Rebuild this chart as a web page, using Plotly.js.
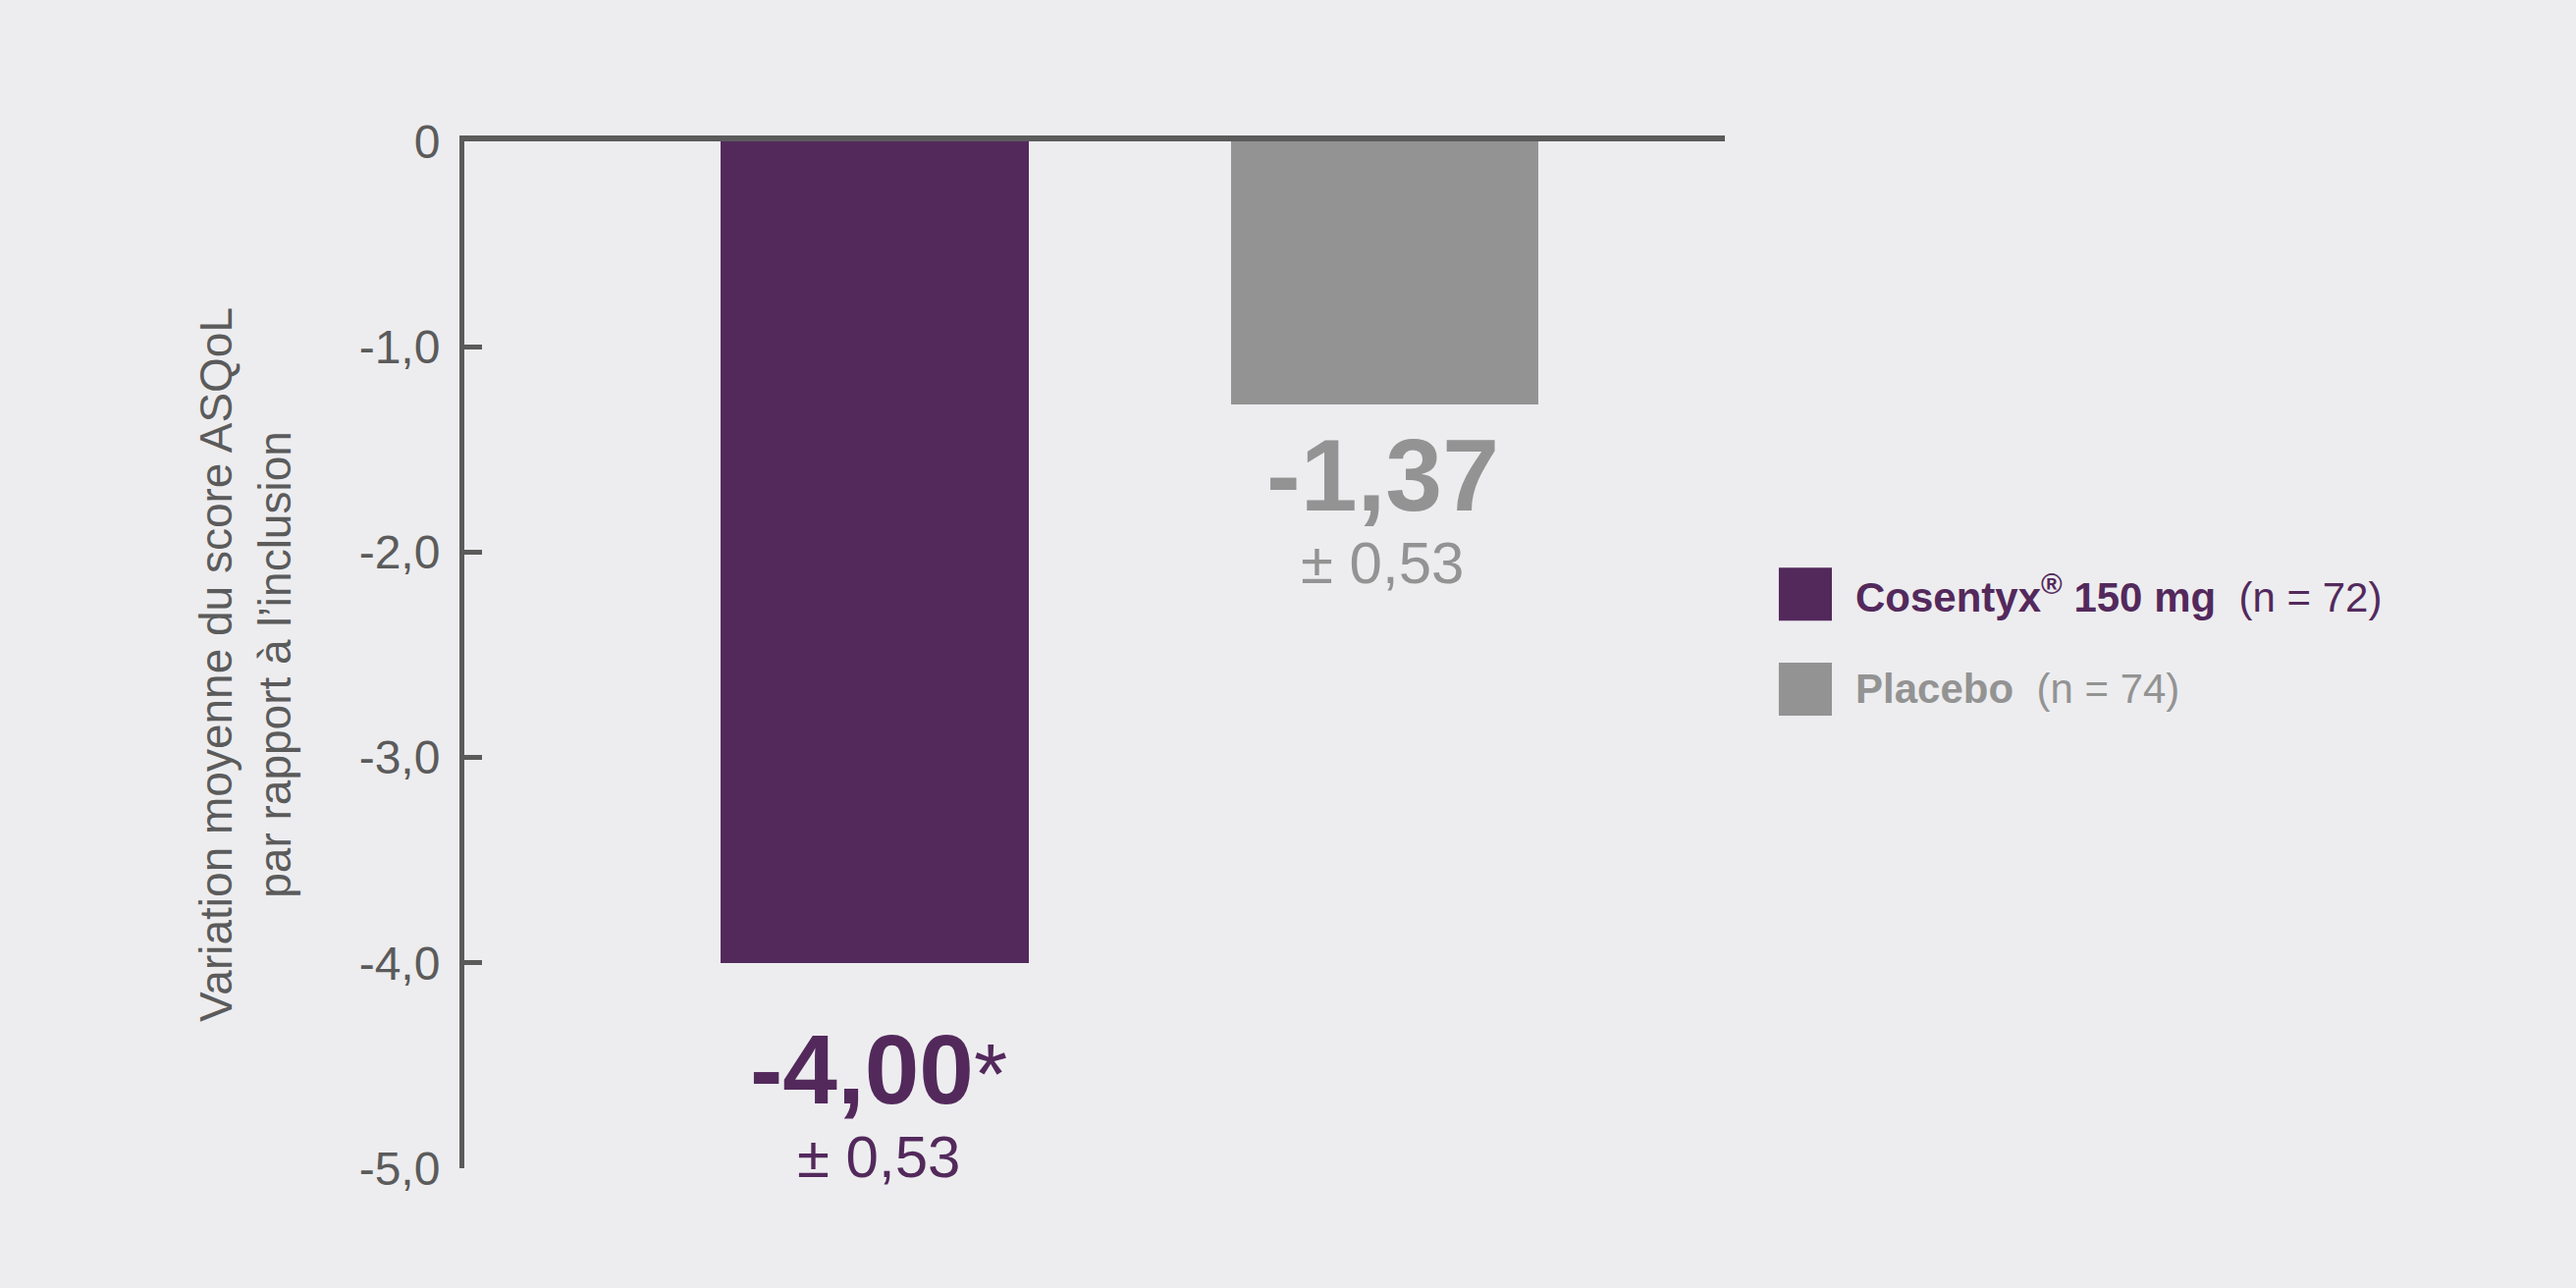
<!DOCTYPE html>
<html>
<head>
<meta charset="utf-8">
<script src="https://cdn.plot.ly/plotly-3.0.1.min.js"></script>
<style>
  html, body { margin: 0; padding: 0; background: #EDEDEF; }
  #chart { width: 2624px; height: 1312px; }
</style>
</head>
<body>
<div id="chart"></div>
<script>
// ---- Data ----
const categories = ["Cosentyx® 150 mg", "Placebo"];
const barValues = [-4.00, -1.28];          // bar ends as drawn
const valueLabels = ["-4,00", "-1,37"];
const significance = ["*", ""];
const semLabels = ["± 0,53", "± 0,53"];
const nLabels = ["(n = 72)", "(n = 74)"];
const legendNames = ["Cosentyx<sup>®</sup> 150 mg", "Placebo"];
const tickVals = [0, -1, -2, -3, -4, -5];
const tickText = ["0", "-1,0", "-2,0", "-3,0", "-4,0", "-5,0"];
const yTitle = "Variation moyenne du score ASQoL<br>par rapport à l’inclusion";

// ---- Style ----
const purple = "#53295C";
const grey = "#939393";
const axisCol = "#5B5B5B";
const bg = "#EDEDEF";
const colors = [purple, grey];
const fam = "Liberation Sans, Arial, sans-serif";

const trace = {
  type: "bar",
  x: categories,
  y: barValues,
  width: 0.603,
  marker: { color: colors, line: { width: 0 } },
  hoverinfo: "skip",
  showlegend: false
};

const annotations = [];
const valueSizes = [100, 104];
const valueShift = [-108, -72];
const semShift = [-198, -162];
const valueXShift = [4, -2];
categories.forEach((c, i) => {
  const sig = significance[i]
    ? "<span style='font-weight:normal;font-size:88px'>" + significance[i] + "</span>" : "";
  annotations.push({
    x: c, y: barValues[i], xref: "x", yref: "y",
    text: "<b>" + valueLabels[i] + "</b>" + sig,
    showarrow: false, xanchor: "center", yanchor: "middle",
    yshift: valueShift[i], xshift: valueXShift[i],
    font: { family: fam, size: valueSizes[i], color: colors[i] }
  });
  annotations.push({
    x: c, y: barValues[i], xref: "x", yref: "y",
    text: semLabels[i],
    showarrow: false, xanchor: "center", yanchor: "middle",
    yshift: semShift[i], xshift: valueXShift[i],
    font: { family: fam, size: 60, color: colors[i] }
  });
});

// y-axis title
annotations.push({
  xref: "paper", yref: "paper", x: -0.1737, y: 0.4905,
  xanchor: "center", yanchor: "middle",
  text: yTitle, textangle: -90, showarrow: false,
  font: { family: fam, size: 46, color: axisCol }
});

// legend (shapes + text)
const shapes = [];
const legendY = [0.559, 0.4666];
categories.forEach((c, i) => {
  shapes.push({
    type: "rect", xref: "paper", yref: "paper",
    x0: 1.0428, x1: 1.0849,
    y0: legendY[i] - 0.0258, y1: legendY[i] + 0.0258,
    fillcolor: colors[i], line: { width: 0 }
  });
  annotations.push({
    xref: "paper", yref: "paper", x: 1.102, y: legendY[i],
    xanchor: "left", yanchor: "middle", showarrow: false,
    text: "<b>" + legendNames[i] + "</b>  " + nLabels[i],
    font: { family: fam, size: 42, color: colors[i] }
  });
});

const layout = {
  width: 2624, height: 1312,
  paper_bgcolor: bg, plot_bgcolor: bg,
  margin: { l: 473, r: 867, t: 144, b: 122, pad: 0 },
  bargap: 0,
  xaxis: {
    type: "category",
    range: [-0.805, 1.668],
    side: "top",
    showline: true, linecolor: axisCol, linewidth: 6,
    showticklabels: false, ticks: "", showgrid: false, zeroline: false,
    fixedrange: true
  },
  yaxis: {
    range: [-5, 0],
    showline: true, linecolor: axisCol, linewidth: 5,
    ticks: "inside", ticklen: 18, tickwidth: 5, tickcolor: axisCol,
    tickvals: tickVals, ticktext: tickText,
    ticklabelstandoff: 10,
    tickfont: { family: fam, size: 48, color: axisCol },
    showgrid: false, zeroline: false, fixedrange: true
  },
  annotations: annotations,
  shapes: shapes,
  showlegend: false
};

Plotly.newPlot("chart", [trace], layout, { displayModeBar: false, staticPlot: true });
</script>
</body>
</html>
